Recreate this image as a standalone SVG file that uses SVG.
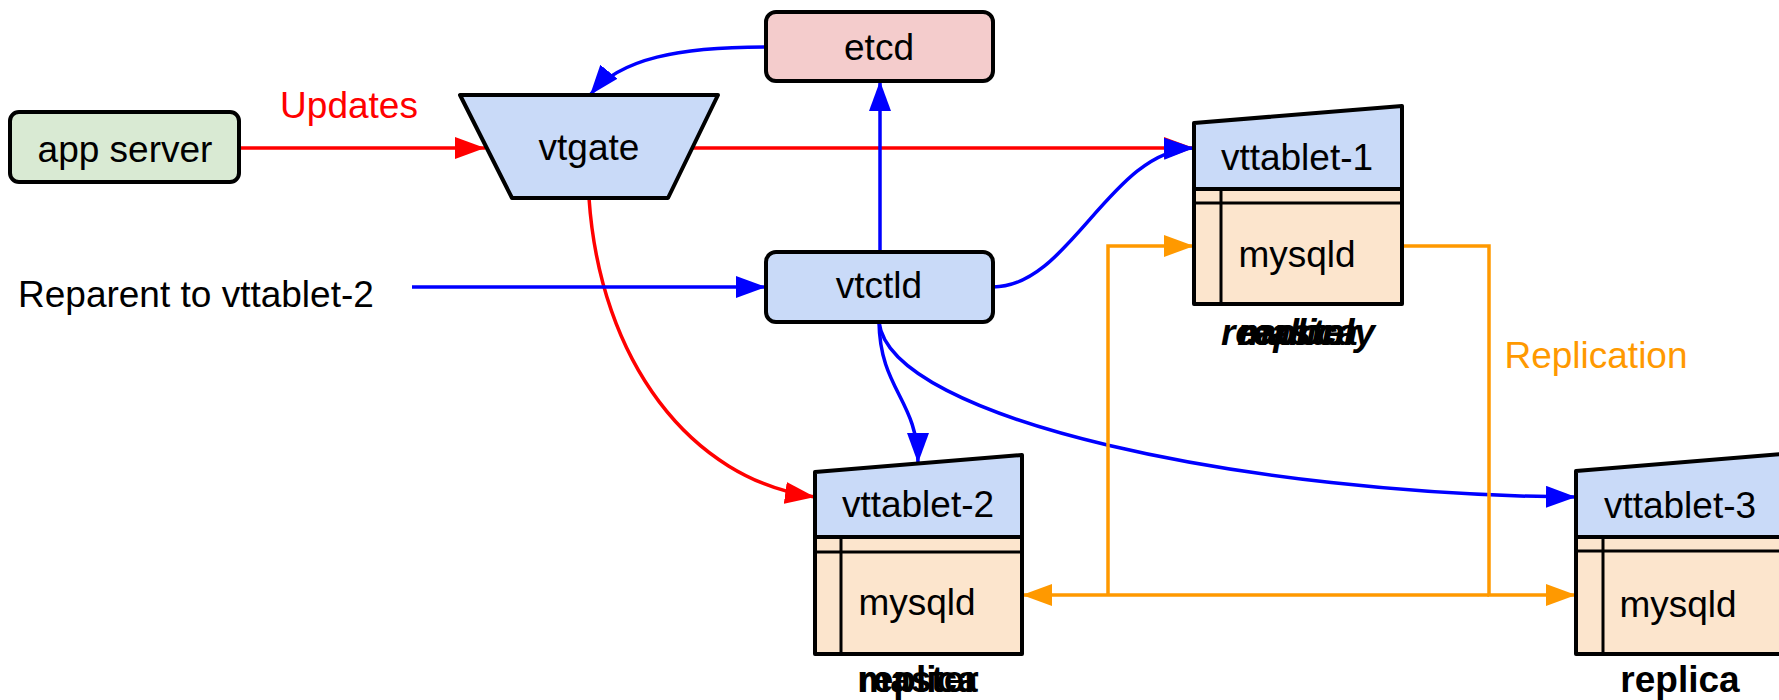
<svg xmlns="http://www.w3.org/2000/svg" width="1779" height="700" viewBox="0 0 1779 700">
<style>
text{font-family:"Liberation Sans",Arial,sans-serif;font-size:37px;fill:#000;text-anchor:middle}
.node{stroke:#000;stroke-width:4;stroke-linejoin:round}
.in{stroke:#000;stroke-width:3;fill:none}
.blue{fill:#c9daf8}.peach{fill:#fce5cd}.green{fill:#d9ead3}.pink{fill:#f4cccc}
.lbl{font-weight:bold}
.it{font-style:italic}
.c{fill:none;stroke-width:3.5}
.r{stroke:#ff0000}.b{stroke:#0000ff}.o{stroke:#ff9900}
</style>
<defs>
<marker id="ar" markerUnits="userSpaceOnUse" markerWidth="32" markerHeight="24" refX="30" refY="11" orient="auto"><path d="M0,0L30,11L0,22z" fill="#ff0000"/></marker>
<marker id="ab" markerUnits="userSpaceOnUse" markerWidth="32" markerHeight="24" refX="30" refY="11" orient="auto"><path d="M0,0L30,11L0,22z" fill="#0000ff"/></marker>
<marker id="ao" markerUnits="userSpaceOnUse" markerWidth="32" markerHeight="24" refX="30" refY="11" orient="auto"><path d="M0,0L30,11L0,22z" fill="#ff9900"/></marker>
</defs>

<g id="connectors">
<path class="c r" d="M239,148H485" marker-end="url(#ar)"/>
<path class="c r" d="M693,148H1194" marker-end="url(#ar)"/>
<path class="c r" d="M589,198C600,360 690,480 815,497" marker-end="url(#ar)"/>
<path class="c b" d="M766,47C680,47 620,58 590,95" marker-end="url(#ab)"/>
<path class="c b" d="M880,252V81" marker-end="url(#ab)"/>
<path class="c b" d="M412,287H766" marker-end="url(#ab)"/>
<path class="c b" d="M993,287C1070,287 1110,150 1194,148" marker-end="url(#ab)"/>
<path class="c b" d="M879,322C880,390 918,400 918,463" marker-end="url(#ab)"/>
<path class="c b" d="M879,322C890,420 1250,495 1576,497" marker-end="url(#ab)"/>
<path class="c o" d="M1402,246H1489V595H1576" marker-end="url(#ao)"/>
<path class="c o" d="M1489,595H1022" marker-end="url(#ao)"/>
<path class="c o" d="M1108,595V246H1194" marker-end="url(#ao)"/>
<text x="349" y="118" style="fill:#ff0000">Updates</text>
<text x="1596" y="368" style="fill:#ff9900">Replication</text>
</g>

<g id="app-server">
<rect class="node green" x="10" y="112" width="229" height="70" rx="9"/>
<text x="125" y="162">app server</text>
</g>

<g id="reparent-label">
<text x="18" y="307" style="text-anchor:start">Reparent to vttablet-2</text>
</g>

<g id="vtgate">
<path class="node blue" d="M460,95H718L668,198H512Z"/>
<text x="589" y="160">vtgate</text>
</g>

<g id="etcd">
<rect class="node pink" x="766" y="12" width="227" height="69" rx="10"/>
<text x="879" y="60">etcd</text>
</g>

<g id="vtctld">
<rect class="node blue" x="766" y="252" width="227" height="70" rx="10"/>
<text x="879" y="298">vtctld</text>
</g>

<g id="vttablet-1">
<path class="node blue" d="M1194,123L1402,106V189H1194Z"/>
<rect class="node peach" x="1194" y="189" width="208" height="115"/>
<path class="in" d="M1194,203H1402M1221,189V304"/>
<text x="1297" y="170">vttablet-1</text>
<text x="1297" y="267">mysqld</text>
<text class="lbl it" x="1298" y="345">master</text>
<text class="lbl it" x="1298" y="345">replica</text>
<text class="lbl it" x="1298" y="345">readonly</text>
</g>

<g id="vttablet-2">
<path class="node blue" d="M815,472L1022,455V537H815Z"/>
<rect class="node peach" x="815" y="537" width="207" height="117"/>
<path class="in" d="M815,552H1022M841,537V654"/>
<text x="918" y="517">vttablet-2</text>
<text x="917" y="615">mysqld</text>
<text class="lbl" x="918" y="692">master</text>
<text class="lbl" x="918" y="692">replica</text>
</g>

<g id="vttablet-3">
<path class="node blue" d="M1576,471L1783,454V537H1576Z"/>
<rect class="node peach" x="1576" y="537" width="207" height="117"/>
<path class="in" d="M1576,551H1783M1603,537V654"/>
<text x="1680" y="518">vttablet-3</text>
<text x="1678" y="617">mysqld</text>
<text class="lbl" x="1680" y="692">replica</text>
</g>
</svg>
